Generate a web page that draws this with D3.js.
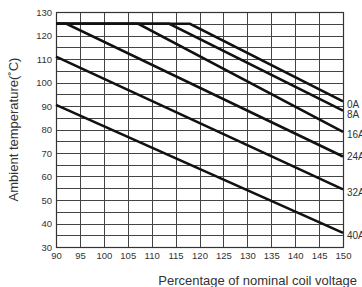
<!DOCTYPE html>
<html><head><meta charset="utf-8">
<script src="https://cdnjs.cloudflare.com/ajax/libs/d3/7.8.5/d3.min.js"></script>
<style>
html,body{margin:0;padding:0;background:#fff;overflow:hidden;}
text{font-family:"Liberation Sans",Arial,sans-serif;}
</style></head>
<body><svg id="c" width="362" height="287"></svg>
<script>
const xTicks = [90,95,100,105,110,115,120,125,130,135,140,145,150];
const yTicks = [30,40,50,60,70,80,90,100,110,120,130];
const yGrid = [30,35,40,45,50,55,60,65,70,75,80,85,90,95,100,105,110,115,120,125,130];
const currents = ["0A","8A","16A","24A","32A","40A"];
const startTemp = [125,125,125,125,111,90.5];
const kneeVoltage = [118,113.7,107.2,92.2,90,90];
const endTemp = [92,88,79,68.5,54.5,36];
const labelTemp = [90.8,86.2,77.7,68.3,53,34.7];

const svg = d3.select("#c");
const m = {l:56, r:343, t:12, b:247};
const x = d3.scaleLinear().domain([90,150]).range([m.l,m.r]);
const y = d3.scaleLinear().domain([30,130]).range([m.b,m.t]);

// grid
svg.append("g").selectAll("line").data(yGrid).join("line")
  .attr("x1",m.l).attr("x2",m.r)
  .attr("y1",d=>Math.round(y(d))+0.5).attr("y2",d=>Math.round(y(d))+0.5)
  .attr("stroke","#444").attr("stroke-width",1);
svg.append("g").selectAll("line").data(xTicks).join("line")
  .attr("y1",m.t).attr("y2",m.b)
  .attr("x1",d=>Math.round(x(d))+0.5).attr("x2",d=>Math.round(x(d))+0.5)
  .attr("stroke","#444").attr("stroke-width",1);
svg.append("rect").attr("x",m.l+0.5).attr("y",Math.round(m.t)+0.5)
  .attr("width",m.r-m.l).attr("height",m.b-m.t)
  .attr("fill","none").attr("stroke","#333").attr("stroke-width",1.2);

// axes labels
const xAxis = d3.axisBottom(x).tickValues(xTicks).tickSize(0).tickPadding(5);
const gx = svg.append("g").attr("transform",`translate(0,${m.b})`).call(xAxis);
gx.select(".domain").remove();
gx.selectAll("text").attr("font-size",9.5).attr("fill","#333").attr("font-family","Liberation Sans, Arial, sans-serif");
const yAxis = d3.axisLeft(y).tickValues(yTicks).tickSize(0).tickPadding(4);
const gy = svg.append("g").attr("transform",`translate(${m.l},0)`).call(yAxis);
gy.select(".domain").remove();
gy.selectAll("text").attr("font-size",9.5).attr("fill","#333").attr("font-family","Liberation Sans, Arial, sans-serif");

// series
const line = d3.line().x(d=>x(d[0])).y(d=>y(d[1]));
currents.forEach((c,i)=>{
  const pts = [];
  if (kneeVoltage[i] > 90) pts.push([90,startTemp[i]]);
  pts.push([kneeVoltage[i],startTemp[i]]);
  pts.push([150,endTemp[i]]);
  svg.append("path").datum(pts).attr("d",line)
    .attr("fill","none").attr("stroke","#111").attr("stroke-width",2.6);
  svg.append("text").attr("x",x(150)+4).attr("y",y(labelTemp[i])+3.5)
    .attr("font-size",10).attr("fill","#333").text(c);
});

// titles
svg.append("text").attr("transform",`translate(18,${(m.t+m.b)/2}) rotate(-90)`)
  .attr("text-anchor","middle").attr("font-size",13).attr("fill","#333")
  .text("Ambient temperature(˚C)");
svg.append("text").attr("x",357).attr("y",285).attr("text-anchor","end")
  .attr("font-size",13).attr("fill","#333")
  .text("Percentage of nominal coil voltage");
</script></body></html>
